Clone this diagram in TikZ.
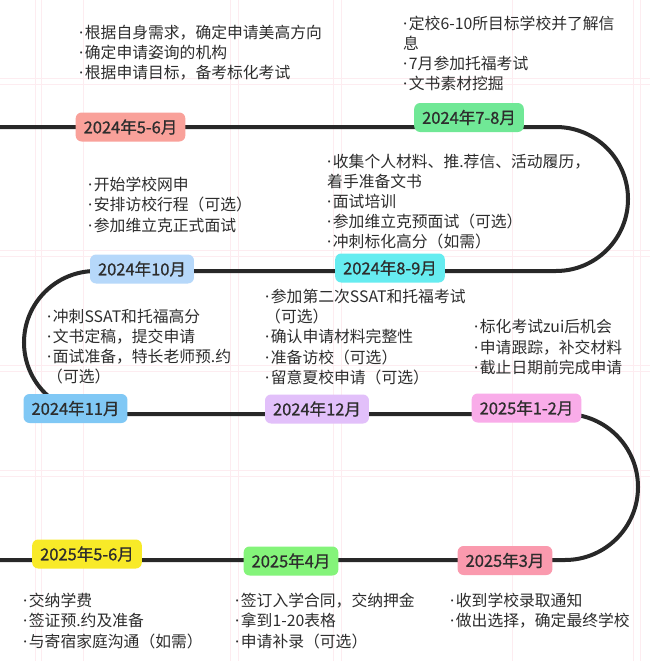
\documentclass[tikz,border=0pt]{standalone}
\usepackage{fontspec}
\newfontfamily\cjk{Noto Sans CJK SC}
\newfontfamily\cjkm[FakeBold=0.8]{Noto Sans CJK SC}
\newfontfamily\latin{Noto Sans}
\newcommand\dt{{\latin ·}\kern1.5pt}
\definecolor{ink}{RGB}{40,40,40}
\definecolor{txt}{RGB}{45,45,45}
\definecolor{gridpink}{RGB}{253,236,240}
\definecolor{csalmon}{RGB}{249,161,154}
\definecolor{cmint}{RGB}{112,232,150}
\definecolor{ccyan}{RGB}{102,236,240}
\definecolor{csky}{RGB}{182,216,250}
\definecolor{cblue}{RGB}{128,200,245}
\definecolor{clav}{RGB}{226,192,250}
\definecolor{cpink}{RGB}{249,172,233}
\definecolor{crose}{RGB}{250,154,174}
\definecolor{clime}{RGB}{132,244,122}
\definecolor{cyellow}{RGB}{248,234,40}
\tikzset{
    roadmap/.style={x=1pt,y=-1pt,font=\cjk\fontsize{15.8}{20.2}\selectfont},
    stage/.style={rounded corners=6pt,inner xsep=8pt,inner ysep=0pt,minimum height=29pt,text=txt,font=\cjkm\fontsize{16.5}{18}\selectfont},
    todo/.style={align=left,anchor=north west,inner sep=0pt,text=txt},
    track/.style={line width=4pt,draw=ink},
    gridline/.style={gridpink,line width=1pt}
}

\begin{document}
\begin{tikzpicture}[roadmap]
    \useasboundingbox[fill=white] (0,0) rectangle (650,661);
    \foreach \gx in {35,41,83,230,238,333,341,512,633,640} \draw[gridline] (\gx,0) -- (\gx,661);
    \foreach \gy in {78,84,250,256,365,371,470,476} \draw[gridline] (0,\gy) -- (650,\gy);
    % the road
    \coordinate (start) at (0,127);
    \coordinate (t1) at (556,127);
    \coordinate (t2) at (95.5,271);
    \coordinate (t3) at (565,414);
    \coordinate (finish) at (0,560);
    \draw[track] (start) -- (t1) arc[start angle=90,end angle=-90,radius=72pt]
        -- (t2) arc[start angle=90,end angle=270,radius=71.5pt]
        -- (t3) arc[start angle=90,end angle=-90,radius=73pt] -- (finish);
    % stages
    \foreach \nm/\x/\y/\c/\t in {
        s1/130.5/127/csalmon/2024年5-6月, s2/469/117.5/cmint/2024年7-8月,
        s3/390/268/ccyan/2024年8-9月, s4/142/269/csky/2024年10月,
        s5/75.5/408.5/cblue/2024年11月, s6/317/409/clav/2024年12月,
        s7/526.5/408/cpink/2025年1-2月, s8/505/560.5/crose/2025年3月,
        s9/291/561/clime/2025年4月, s10/87/554/cyellow/2025年5-6月}
        \node[stage,fill=\c] (\nm) at (\x,\y) {\t};
    % tasks
    \node[todo] (n1) at (79,24.5) {\dt{}根据自身需求，确定申请美高方向\\\dt{}确定申请姿询的机构\\\dt{}根据申请目标，备考标化考试};
    \node[todo] (n2) at (403,15.5) {\dt{}定校6-10所目标学校并了解信\\息\\\dt{}7月参加托福考试\\\dt{}文书素材挖掘};
    \node[todo] (n3) at (327,153.5) {\dt{}收集个人材料、推.荐信、活动履历，\\着手准备文书\\\dt{}面试培训\\\dt{}参加维立克预面试（可选）\\\dt{}冲刺标化高分（如需）};
    \node[todo] (n4) at (88,177) {\dt{}开始学校网申\\\dt{}安排访校行程（可选）\\\dt{}参加维立克正式面试};
    \node[todo] (n5) at (47,308.5) {\dt{}冲刺SSAT和托福高分\\\dt{}文书定稿，提交申请\\\dt{}面试准备，特长老师预.约\\（可选）};
    \node[todo] (n6) at (265,289) {\dt{}参加第二次SSAT和托福考试\\（可选）\\\dt{}确认申请材料完整性\\\dt{}准备访校（可选）\\\dt{}留意夏校申请（可选）};
    \node[todo] (n7) at (474,319.5) {\dt{}标化考试zui后机会\\\dt{}申请跟踪，补交材料\\\dt{}截止日期前完成申请};
    \node[todo] (n8) at (23,593) {\dt{}交纳学费\\\dt{}签证预.约及准备\\\dt{}与寄宿家庭沟通（如需）};
    \node[todo] (n9) at (235,593) {\dt{}签订入学合同，交纳押金\\\dt{}拿到1-20表格\\\dt{}申请补录（可选）};
    \node[todo] (n10) at (450,593) {\dt{}收到学校录取通知\\\dt{}做出选择，确定最终学校};
\end{tikzpicture}
\end{document}
